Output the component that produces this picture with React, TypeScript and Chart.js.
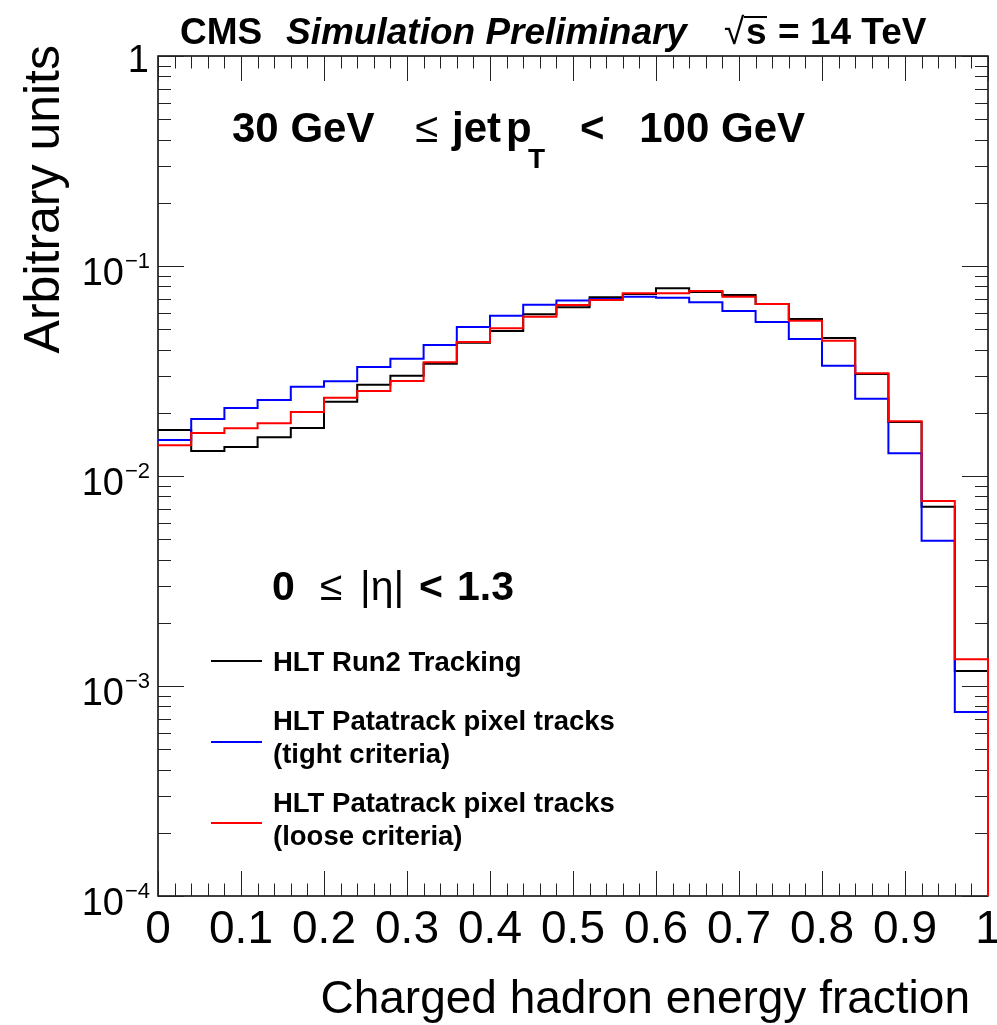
import React, { useEffect, useRef } from "react";
import { Chart, registerables } from "chart.js";

Chart.register(...registerables);

// ---- data ----
const binLowEdges = [0, 0.04, 0.08, 0.12, 0.16, 0.2, 0.24, 0.28, 0.32, 0.36, 0.4, 0.44, 0.48, 0.52, 0.56, 0.6, 0.64, 0.68, 0.72, 0.76, 0.8, 0.84, 0.88, 0.92, 0.96];
const lastBinUpEdge = 1.0;

const run2Tracking = [0.01656, 0.01315, 0.01374, 0.01528, 0.01693, 0.02258, 0.02721, 0.03003, 0.03425, 0.04311, 0.04903, 0.05888, 0.06358, 0.07096, 0.07356, 0.0783, 0.07518, 0.07274, 0.06592, 0.05592, 0.0454, 0.0306, 0.01807, 0.00714, 0.001179];
const patatrackTight = [0.01484, 0.01868, 0.02108, 0.02301, 0.02662, 0.02825, 0.03304, 0.03619, 0.04205, 0.05123, 0.05798, 0.06542, 0.06851, 0.06966, 0.07142, 0.07063, 0.06716, 0.06106, 0.05412, 0.04491, 0.03351, 0.02334, 0.01283, 0.004918, 0.000752];
const patatrackLoose = [0.014, 0.01603, 0.01687, 0.01782, 0.02018, 0.0236, 0.0254, 0.02834, 0.03478, 0.04345, 0.0505, 0.05736, 0.06521, 0.06889, 0.07413, 0.07413, 0.07603, 0.07142, 0.06592, 0.05489, 0.04409, 0.03083, 0.01822, 0.007603, 0.00134];

const xTickValues = [0, 0.1, 0.2, 0.3, 0.4, 0.5, 0.6, 0.7, 0.8, 0.9, 1];
const xTickLabels = ["0", "0.1", "0.2", "0.3", "0.4", "0.5", "0.6", "0.7", "0.8", "0.9", "1"];
const yTickValues = [1, 0.1, 0.01, 0.001, 0.0001];
const yTickExponents = ["", "\u22121", "\u22122", "\u22123", "\u22124"];

const legendLines = [
  { lines: ["HLT Run2 Tracking"], color: "#000000" },
  { lines: ["HLT Patatrack pixel tracks", "(tight criteria)"], color: "#0000ff" },
  { lines: ["HLT Patatrack pixel tracks", "(loose criteria)"], color: "#ff0000" },
];

const FONT = "'Liberation Sans', Arial, Helvetica, sans-serif";

function histPoints(values: number[]) {
  const pts = binLowEdges.map((x, i) => ({ x, y: values[i] }));
  pts.push({ x: lastBinUpEdge, y: 1e-7 });
  return pts;
}

const framePlugin = {
  id: "rootFrame",
  beforeDatasetsDraw(chart: any) {
    const { ctx, chartArea: a, scales } = chart;
    const xs = scales.x;
    const ys = scales.y;
    ctx.save();
    ctx.strokeStyle = "#000";
    ctx.lineWidth = 1.5;
    ctx.strokeRect(a.left, a.top, a.right - a.left, a.bottom - a.top);
    ctx.lineWidth = 1;
    ctx.strokeStyle = "#222";
    const seg = (x1: number, y1: number, x2: number, y2: number) => {
      ctx.beginPath();
      ctx.moveTo(x1, y1);
      ctx.lineTo(x2, y2);
      ctx.stroke();
    };
    for (let k = 0; k <= 50; k++) {
      const px = Math.round(xs.getPixelForValue(k * 0.02)) + 0.5;
      const len = k % 5 === 0 ? 25 : 12.5;
      seg(px, a.bottom, px, a.bottom - len);
      seg(px, a.top, px, a.top + len);
    }
    for (let d = -4; d <= 0; d++) {
      for (let m = 1; m <= 9; m++) {
        const v = m * Math.pow(10, d);
        if (v > 1.0001) break;
        const py = Math.round(ys.getPixelForValue(v)) + 0.5;
        const len = m === 1 ? 26 : 13;
        seg(a.left, py, a.left + len, py);
        seg(a.right, py, a.right - len, py);
      }
    }
    ctx.restore();
  },
  afterDraw(chart: any) {
    const { ctx, scales } = chart;
    const xs = scales.x;
    const ys = scales.y;
    ctx.save();
    ctx.fillStyle = "#000";
    // x tick labels
    ctx.font = `46px ${FONT}`;
    ctx.textAlign = "center";
    ctx.textBaseline = "alphabetic";
    xTickValues.forEach((v, i) => {
      ctx.fillText(xTickLabels[i], xs.getPixelForValue(v), 943);
    });
    // y tick labels
    yTickValues.forEach((v, i) => {
      const py = ys.getPixelForValue(v);
      const exp = yTickExponents[i];
      ctx.textAlign = "right";
      if (exp === "") {
        ctx.font = `38px ${FONT}`;
        ctx.fillText("1", 149, py + 16);
      } else {
        ctx.font = `22px ${FONT}`;
        const w = ctx.measureText(exp).width;
        ctx.fillText(exp, 150, py + 2);
        ctx.font = `38px ${FONT}`;
        ctx.fillText("10", 150 - w - 1, py + 19);
      }
    });
    // axis titles
    ctx.font = `46px ${FONT}`;
    ctx.textAlign = "right";
    ctx.fillText("Charged hadron energy fraction", 970, 1013);
    ctx.save();
    ctx.translate(59, 45);
    ctx.rotate(-Math.PI / 2);
    ctx.font = `50px ${FONT}`;
    ctx.textAlign = "right";
    ctx.fillText("Arbitrary units", 0, 0);
    ctx.restore();

    // header
    ctx.textAlign = "left";
    ctx.font = `bold 37px ${FONT}`;
    ctx.fillText("CMS", 180, 44);
    ctx.font = `italic bold 37px ${FONT}`;
    ctx.fillText("Simulation Preliminary", 286, 44);
    ctx.font = `37px ${FONT}`;
    ctx.fillText("\u221A", 724, 44);
    ctx.font = `bold 37px ${FONT}`;
    ctx.fillText("s", 746, 44);
    ctx.lineWidth = 2;
    ctx.beginPath();
    ctx.moveTo(744, 17);
    ctx.lineTo(767, 17);
    ctx.stroke();
    ctx.fillText("= 14 TeV", 778, 44);

    // pT text
    const big = 42;
    ctx.font = `bold ${big}px ${FONT}`;
    ctx.fillText("30 GeV", 232, 142);
    ctx.font = `${big}px ${FONT}`;
    ctx.fillText("\u2264", 415, 142);
    ctx.font = `bold ${big}px ${FONT}`;
    ctx.fillText("jet", 452, 142);
    ctx.fillText("p", 506, 142);
    ctx.font = `bold 28px ${FONT}`;
    ctx.fillText("T", 528, 168);
    ctx.font = `bold ${big}px ${FONT}`;
    ctx.fillText("<", 580, 142);
    ctx.textAlign = "right";
    ctx.fillText("100 GeV", 805, 142);
    ctx.textAlign = "left";

    // eta text
    ctx.font = `bold 41px ${FONT}`;
    ctx.fillText("0", 272, 600);
    ctx.font = `41px ${FONT}`;
    ctx.fillText("\u2264", 320, 600);
    ctx.fillText("|\u03B7|", 360, 600);
    ctx.font = `bold 41px ${FONT}`;
    ctx.fillText("<", 419, 600);
    ctx.fillText("1.3", 457, 600);

    // legend
    const legendY = [661, 742, 823];
    const textY = [[671], [730, 763], [812, 845]];
    ctx.font = `bold 27.5px ${FONT}`;
    legendLines.forEach((entry, i) => {
      ctx.strokeStyle = entry.color;
      ctx.lineWidth = 2;
      ctx.beginPath();
      ctx.moveTo(211, legendY[i]);
      ctx.lineTo(262, legendY[i]);
      ctx.stroke();
      entry.lines.forEach((t, j) => ctx.fillText(t, 273, textY[i][j]));
    });
    ctx.restore();
  },
};

export default function App() {
  const canvasRef = useRef<HTMLCanvasElement | null>(null);
  useEffect(() => {
    if (!canvasRef.current) return;
    const chart = new Chart(canvasRef.current, {
      type: "line",
      data: {
        datasets: [
          { label: "HLT Run2 Tracking", data: histPoints(run2Tracking), borderColor: "#000000", order: 3 },
          { label: "HLT Patatrack pixel tracks (tight criteria)", data: histPoints(patatrackTight), borderColor: "#0000ff", order: 2 },
          { label: "HLT Patatrack pixel tracks (loose criteria)", data: histPoints(patatrackLoose), borderColor: "#ff0000", order: 1 },
        ].map((d) => ({
          ...d,
          stepped: "before" as const,
          borderWidth: 2,
          pointRadius: 0,
          fill: false,
          tension: 0,
          clip: { left: 2, right: 3, top: 2, bottom: 0 },
        })),
      },
      options: {
        responsive: false,
        animation: false,
        events: [],
        layout: { padding: { left: 158, right: 9, top: 56, bottom: 129 } },
        plugins: { legend: { display: false }, tooltip: { enabled: false } },
        scales: {
          x: { type: "linear", min: 0, max: 1, display: false },
          y: { type: "logarithmic", min: 0.0001, max: 1, display: false },
        },
      },
      plugins: [framePlugin],
    });
    return () => chart.destroy();
  }, []);
  return (
    <div style={{ position: "fixed", left: 0, top: 0, width: 997, height: 1025, background: "#fff" }}>
      <canvas ref={canvasRef} width={997} height={1025} />
    </div>
  );
}
